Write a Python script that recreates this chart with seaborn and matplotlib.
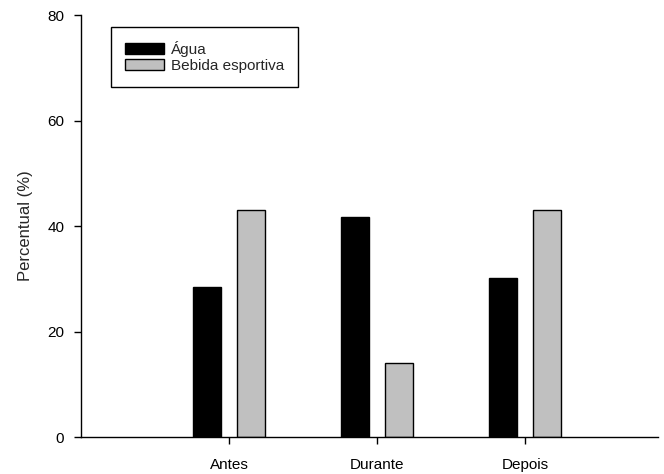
import matplotlib
matplotlib.use("Agg")
import matplotlib.pyplot as plt
import seaborn as sns
import pandas as pd

# Dados
momentos = ["Antes", "Durante", "Depois"]
agua = [28.4, 41.8, 30.1]
bebida = [43.0, 14.0, 43.0]
series = ["Água", "Bebida esportiva"]

df = pd.DataFrame({
    "Momento": momentos * 2,
    "Percentual": agua + bebida,
    "Bebida": [series[0]] * 3 + [series[1]] * 3,
})

sns.set_style("ticks")
plt.rcParams["font.family"] = ["Liberation Sans", "DejaVu Sans"]
plt.rcParams["font.size"] = 11

fig = plt.figure(figsize=(6.64, 4.74), dpi=100)
ax = fig.add_axes([0.122, 0.078, 0.869, 0.890])

sns.barplot(data=df, x="Momento", y="Percentual", hue="Bebida",
            palette=["black", "#c0c0c0"], width=0.6, gap=0.37,
            edgecolor="black", linewidth=1, ax=ax)

ax.set_xlim(-1.0, 2.9)
ax.set_ylim(0, 80)
ax.set_yticks([0, 20, 40, 60, 80])
ax.set_xlabel("")
ax.set_ylabel("Percentual (%)", fontsize=12, labelpad=10)
ax.tick_params(axis="both", labelsize=11, direction="out", length=5, width=1,
               colors="black", pad=7)
ax.tick_params(axis="x", pad=10)
for s in ["top", "right"]:
    ax.spines[s].set_visible(False)
for s in ["left", "bottom"]:
    ax.spines[s].set_linewidth(1)
    ax.spines[s].set_color("black")

leg = ax.legend(loc="upper left", bbox_to_anchor=(0.052, 0.972), frameon=True,
                fancybox=False, edgecolor="black", framealpha=1,
                handlelength=2.55, handleheight=0.7, fontsize=11,
                borderpad=0.9, labelspacing=0.15, handletextpad=0.5,
                borderaxespad=0)
leg.get_frame().set_linewidth(1)
leg.set_title(None)

fig.savefig("out.png", dpi=100)
